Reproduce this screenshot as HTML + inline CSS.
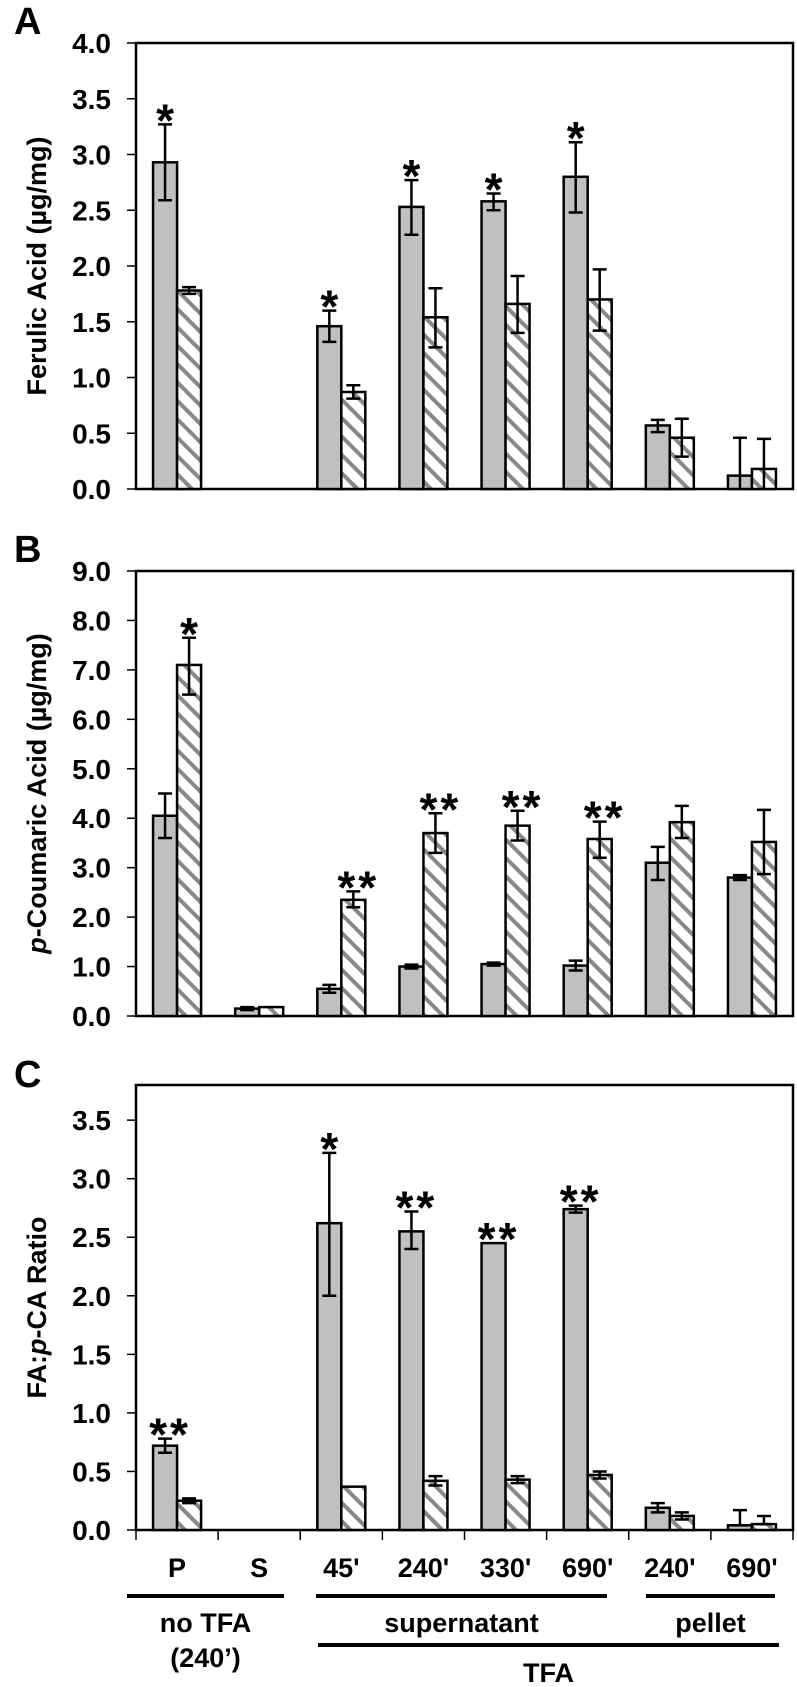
<!DOCTYPE html>
<html><head><meta charset="utf-8"><style>
html,body{margin:0;padding:0;background:#fff;}
svg{display:block;font-family:"Liberation Sans",Arial,sans-serif;font-weight:bold;}
</style></head><body>
<svg id="chart" width="797" height="1687" viewBox="0 0 797 1687">
<defs>
<pattern id="hatch" patternUnits="userSpaceOnUse" width="13" height="13" patternTransform="rotate(45)">
<rect width="13" height="13" fill="#fff"/>
<rect x="0" y="0" width="13" height="4" fill="#888"/>
</pattern>
</defs>
</svg>
<script>
const categories = ["P","S","45'","240'","330'","690'","240'","690'"];
const aGray = [2.93,null,1.46,2.53,2.58,2.80,0.57,0.12];
const aGrayHi = [3.27,null,1.60,2.77,2.65,3.11,0.62,0.46];
const aGrayLo = [2.59,null,1.32,2.28,2.50,2.48,0.51,-0.2];
const aHatch = [1.78,null,0.87,1.54,1.66,1.70,0.46,0.18];
const aHatchHi = [1.81,null,0.93,1.80,1.91,1.97,0.63,0.45];
const aHatchLo = [1.75,null,0.81,1.27,1.40,1.42,0.29,-0.1];
const aGrayStars = ["*","","*","*","*","*","",""];
const aHatchStars = ["","","","","","","",""];
const bGray = [4.05,0.15,0.55,1.00,1.05,1.02,3.10,2.80];
const bGrayHi = [4.50,0.18,0.63,1.04,1.08,1.12,3.42,2.85];
const bGrayLo = [3.60,0.12,0.47,0.96,1.02,0.92,2.75,2.75];
const bHatch = [7.10,0.18,2.35,3.70,3.85,3.58,3.92,3.52];
const bHatchHi = [7.65,0.18,2.52,4.10,4.15,3.93,4.25,4.17];
const bHatchLo = [6.50,0.18,2.20,3.30,3.55,3.20,3.60,2.87];
const bGrayStars = ["","","","","","","",""];
const bHatchStars = ["*","","**","**","**","**","",""];
const cGray = [0.72,null,2.62,2.55,2.45,2.74,0.19,0.04];
const cGrayHi = [0.78,null,3.22,2.72,2.45,2.77,0.23,0.17];
const cGrayLo = [0.66,null,2.00,2.40,2.45,2.71,0.15,0.04];
const cHatch = [0.25,null,0.37,0.42,0.43,0.47,0.12,0.05];
const cHatchHi = [0.27,null,0.37,0.46,0.46,0.50,0.15,0.12];
const cHatchLo = [0.23,null,0.37,0.38,0.40,0.44,0.09,0.05];
const cGrayStars = ["**","","*","**","**","**","",""];
const aTicks = ["0.0","0.5","1.0","1.5","2.0","2.5","3.0","3.5","4.0"];
const bTicks = ["0.0","1.0","2.0","3.0","4.0","5.0","6.0","7.0","8.0","9.0"];
const cTicks = ["0.0","0.5","1.0","1.5","2.0","2.5","3.0","3.5"];

const svg = document.getElementById('chart');
const NS = 'http://www.w3.org/2000/svg';
function mk(tag, attrs, parent){const e=document.createElementNS(NS,tag);for(const k in attrs)e.setAttribute(k,attrs[k]);(parent||svg).appendChild(e);return e;}
const X0=136, X1=793, step=(X1-X0)/categories.length, BW=24;
function xc(i){return X0+step*(i+0.5);}

function panel(key, top, base, ymax, ticks, tickStep, series, title, letter, letterY){
  const g=mk('g',{});
  
  
  const scale=(base-top)/ymax;
  const Y=v=>base-v*scale;
  const fr=mk('rect',{x:X0,y:top,width:X1-X0,height:base-top,fill:'none',stroke:'#000','stroke-width':2.5},g);
  
  
  ticks.forEach((t,i)=>{
    const v=i*tickStep; if(v>ymax+1e-9) return;
    const ty=Y(v);
    const tl=mk('line',{x1:X0-9,x2:X0,y1:ty,y2:ty,stroke:'#000','stroke-width':1.5},g);
    
    
    const tx=mk('text',{x:X0-25,y:ty+10,'text-anchor':'end','font-size':28},g);
    tx.textContent=t;
    
    
  });
  series.forEach(s=>{
    s.vals.forEach((v,i)=>{
      if(v==null) return;
      const bx=xc(i)+s.off*BW-BW/2;
      const r=mk('rect',{x:bx,y:Y(v),width:BW,height:base-Y(v),fill:s.fill,stroke:'#000','stroke-width':2.5},g);
      
      
      const hi=s.hi[i], lo=s.lo[i];
      if(hi!=null && hi-lo>0.001){
        const cx=bx+BW/2;
        const ylo=Math.min(Y(lo),base);
        const eb=mk('path',{d:`M${cx},${Y(hi)}V${ylo}M${cx-7},${Y(hi)}H${cx+7}`+(lo>=0?`M${cx-7},${Y(lo)}H${cx+7}`:''),stroke:'#000','stroke-width':2.5,fill:'none'},g);
        
        
      }
      const st=s.stars[i];
      if(st){
        const top2=Math.max(hi==null?v:hi,v);
        const t=mk('text',{x:bx+BW/2+(st.length>1?5:0),y:Y(top2)+12,'text-anchor':'middle','font-size':46,'letter-spacing':st.length>1?3:0},g);
        t.textContent=st;
        
        
      }
    });
  });
  const cy=(top+base)/2;
  const at=mk('text',{x:0,y:0,'text-anchor':'middle','font-size':27,transform:`translate(46,${cy}) rotate(-90)`},g);
  at.innerHTML=title;
  
  
  const lt=mk('text',{x:14,y:letterY,'font-size':38},g);
  lt.textContent=letter;
  
  
}
panel('a',43,489,4.0,aTicks,0.5,[
 {name:'gray',off:-0.5,fill:'#c0c0c0',vals:aGray,hi:aGrayHi,lo:aGrayLo,stars:aGrayStars},
 {name:'hatch',off:0.5,fill:'url(#hatch)',vals:aHatch,hi:aHatchHi,lo:aHatchLo,stars:aHatchStars}],
 'Ferulic Acid (µg/mg)','A',34);
panel('b',571,1016,9.0,bTicks,1.0,[
 {name:'gray',off:-0.5,fill:'#c0c0c0',vals:bGray,hi:bGrayHi,lo:bGrayLo,stars:bGrayStars},
 {name:'hatch',off:0.5,fill:'url(#hatch)',vals:bHatch,hi:bHatchHi,lo:bHatchLo,stars:bHatchStars}],
 '<tspan font-style="italic">p</tspan>-Coumaric Acid (µg/mg)','B',562);
panel('c',1085,1530,3.8,cTicks,0.5,[
 {name:'gray',off:-0.5,fill:'#c0c0c0',vals:cGray,hi:cGrayHi,lo:cGrayLo,stars:cGrayStars},
 {name:'hatch',off:0.5,fill:'url(#hatch)',vals:cHatch,hi:cHatchHi,lo:cHatchLo,stars:["","","","","","","",""]}],
 'FA:<tspan font-style="italic">p</tspan>-CA Ratio','C',1087);
for(let i=0;i<=categories.length;i++){
  const x=X0+step*i;
  const t=mk('line',{x1:x,x2:x,y1:1530,y2:1540,stroke:'#000','stroke-width':1.5});
  
  
}
categories.forEach((c,i)=>{
  const t=mk('text',{x:xc(i),y:1577,'text-anchor':'middle','font-size':27});
  t.textContent=c;
  
  
});
function grp(x1,x2,y,label,ly,name){
  const l=mk('line',{x1:x1,x2:x2,y1:y,y2:y,stroke:'#000','stroke-width':4});
  
  
  label.forEach((s,k)=>{
    const t=mk('text',{x:(x1+x2)/2,y:ly+k*35,'text-anchor':'middle','font-size':27});
    t.textContent=s;
    
    
  });
}
grp(127,284,1596,['no TFA','(240’)'],1632,'no-tfa');
grp(316,607,1596,['supernatant'],1632,'supernatant');
grp(646,775,1596,['pellet'],1632,'pellet');
grp(318,779,1645,['TFA'],1682,'tfa');
</script>
</body></html>
